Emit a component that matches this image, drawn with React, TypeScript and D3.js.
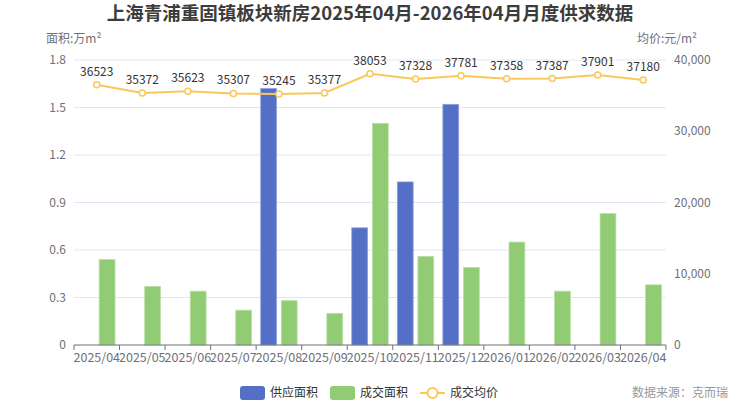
import * as d3 from "d3";

const months = [
  "2025/04", "2025/05", "2025/06", "2025/07", "2025/08", "2025/09", "2025/10",
  "2025/11", "2025/12", "2026/01", "2026/02", "2026/03", "2026/04",
];
// 万m²; null where there was no supply
const supply: (number | null)[] = [null, null, null, null, 1.62, null, 0.74, 1.03, 1.52, null, null, null, null];
const sales = [0.54, 0.37, 0.34, 0.22, 0.28, 0.2, 1.4, 0.56, 0.49, 0.65, 0.34, 0.83, 0.38];
// 元/m²
const price = [36523, 35372, 35623, 35307, 35245, 35377, 38053, 37328, 37781, 37358, 37387, 37901, 37180];
const leftTicks = [0, 0.3, 0.6, 0.9, 1.2, 1.5, 1.8];
const rightTicks = [0, 10000, 20000, 30000, 40000];

const W = 740;
const H = 406;
const m = { top: 60, right: 74, bottom: 61, left: 74 };
const font = "'Noto Sans CJK SC', 'Noto Sans', sans-serif";
const blue = "#5470c6";
const green = "#91cc75";
const yellow = "#fac858";
const axisGray = "#6e7079";

export default function App() {
  const x = d3.scaleBand().domain(months).range([m.left, W - m.right]);
  const yL = d3.scaleLinear().domain([0, 1.8]).range([H - m.bottom, m.top]);
  const yR = d3.scaleLinear().domain([0, 40000]).range([H - m.bottom, m.top]);

  const band = x.bandwidth();
  const barW = (band * 0.8) / 2.3;
  const gap = barW * 0.3;
  const start = band * 0.1;

  const line = d3
    .line<number>()
    .x((_, i) => x(months[i])! + band / 2)
    .y((d) => yR(d));

  const y0 = H - m.bottom;

  return (
    <svg width={W} height={H} style={{ position: "absolute", left: 0, top: 0, fontFamily: font }}>
      <rect width={W} height={H} fill="#fff" />
      <text x={W / 2} y={13} dy="0.38em" textAnchor="middle" fontSize={18.5} fontWeight="bold" fill="#3c3c3c">
        上海青浦重固镇板块新房2025年04月-2026年04月月度供求数据
      </text>
      <text x={46} y={43} fontSize={12} fill={axisGray}>面积:万m²</text>
      <text x={697} y={43} fontSize={12} fill={axisGray} textAnchor="end">均价:元/m²</text>

      {leftTicks.map((t) => (
        <g key={t}>
          {t > 0 && (
            <line x1={m.left} x2={W - m.right} y1={yL(t)} y2={yL(t)} stroke="#e0e6f1" />
          )}
          <text x={m.left - 8} y={yL(t)} dy="0.35em" textAnchor="end" fontSize={12} fill={axisGray}>
            {t}
          </text>
        </g>
      ))}
      {rightTicks.map((t) => (
        <text key={t} x={W - m.right + 8} y={yR(t)} dy="0.35em" fontSize={12} fill={axisGray}>
          {d3.format(",")(t)}
        </text>
      ))}

      {months.map((mo, i) => (
        <g key={mo}>
          {supply[i] != null && (
            <rect
              x={x(mo)! + start}
              y={yL(supply[i]!)}
              width={barW}
              height={y0 - yL(supply[i]!)}
              fill={blue}
              stroke="#8ea0dc"
              strokeWidth={0.8}
            />
          )}
          <rect
            x={x(mo)! + start + barW + gap}
            y={yL(sales[i])}
            width={barW}
            height={y0 - yL(sales[i])}
            fill={green}
            stroke="#b8e0a5"
            strokeWidth={0.8}
          />
        </g>
      ))}

      <line x1={m.left} x2={W - m.right} y1={y0} y2={y0} stroke={axisGray} />
      {d3.range(months.length + 1).map((i) => {
        const xx = m.left + i * band;
        return <line key={i} x1={xx} x2={xx} y1={y0} y2={y0 + 5} stroke={axisGray} />;
      })}
      {months.map((mo) => (
        <text key={mo} x={x(mo)! + band / 2} y={y0 + 13} dy="0.35em" textAnchor="middle" fontSize={12.5} fill={axisGray}>
          {mo}
        </text>
      ))}

      <path d={line(price)!} fill="none" stroke={yellow} strokeWidth={2} />
      {price.map((p, i) => {
        const cx = x(months[i])! + band / 2;
        return (
          <g key={i}>
            <circle cx={cx} cy={yR(p)} r={3} fill="#fff" stroke={yellow} strokeWidth={1.5} />
            <text x={cx} y={yR(p) - 9} textAnchor="middle" fontSize={12} fill="#333">
              {p}
            </text>
          </g>
        );
      })}

      <g fontSize={12} fill="#333">
        <rect x={240} y={386} width={25} height={14} rx={3} fill={blue} />
        <text x={270} y={393} dy="0.35em">供应面积</text>
        <rect x={330} y={386} width={25} height={14} rx={3} fill={green} />
        <text x={360} y={393} dy="0.35em">成交面积</text>
        <line x1={420} x2={445} y1={393} y2={393} stroke={yellow} strokeWidth={2} />
        <circle cx={432.5} cy={393} r={5} fill="#fff" stroke={yellow} strokeWidth={2} />
        <text x={450} y={393} dy="0.35em">成交均价</text>
      </g>
      <text x={728} y={393} dy="0.35em" textAnchor="end" fontSize={12} fill="#999">
        数据来源：克而瑞
      </text>
    </svg>
  );
}
